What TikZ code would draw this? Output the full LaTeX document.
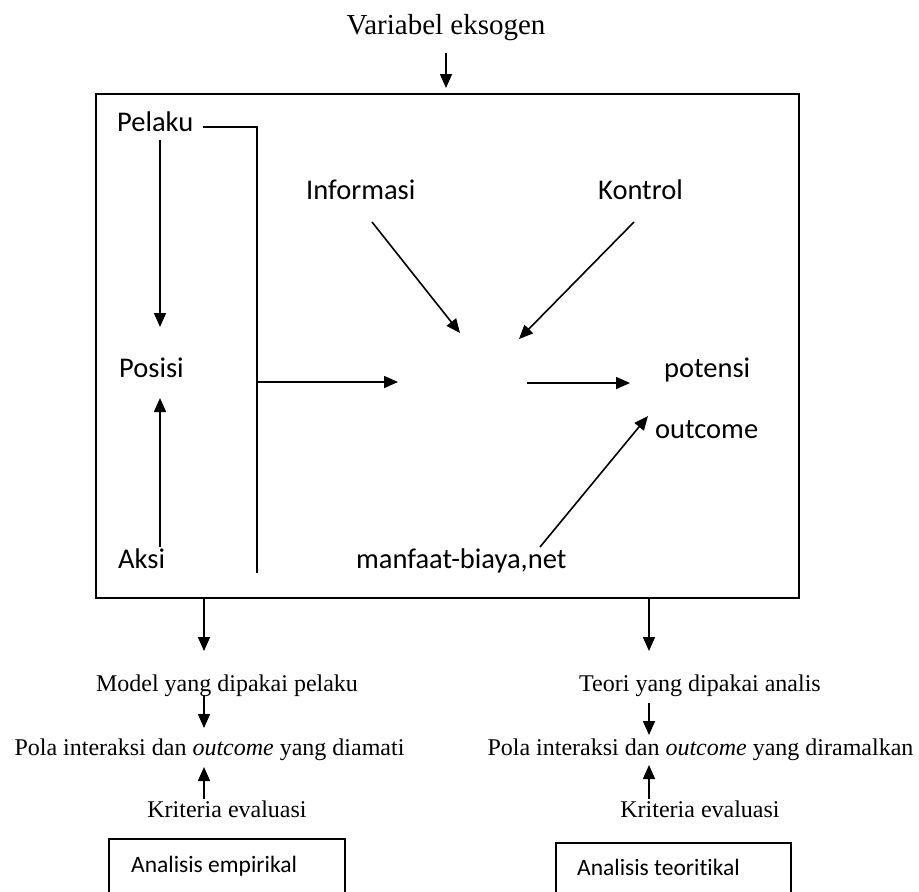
\documentclass[tikz,border=0pt]{standalone}
\usepackage{fontspec}
\setmainfont{Liberation Serif}
\newfontfamily\labelfont{Carlito}[Ligatures=NoCommon]
\usetikzlibrary{arrows.meta,calc}

\begin{document}
\begin{tikzpicture}[x=1pt,y=-1pt,
  ln/.style={line width=1.6pt},
  arr/.style={line width=1.6pt,-{Triangle[length=14pt,width=12pt]}},
  lbl/.style={inner sep=0pt,anchor=base west,font=\labelfont\fontsize{28.5}{32}\selectfont},
  boxlbl/.style={inner sep=0pt,anchor=base west,font=\labelfont\fontsize{23.5}{27}\selectfont},
  title/.style={inner sep=0pt,anchor=base,font=\fontsize{29}{33}\selectfont},
  txt/.style={inner sep=0pt,anchor=base,font=\fontsize{24}{28}\selectfont},
  frame/.style={draw,ln,inner sep=0pt,anchor=north west}
]
\useasboundingbox (0,0) rectangle (919,892);
\clip (0,0) rectangle (919,892);

% exogenous variables entering the action arena
\node[title] (vareks) at (446,34) {Variabel eksogen};
\node[frame,minimum width=703pt,minimum height=504pt] (arena) at (95,93) {};
\draw[arr] ($(vareks.base)+(0,19)$) -- ($(vareks.base |- arena.north)+(0,-5)$);

% inside the arena
\node[lbl] (pelaku)    at (117,131) {Pelaku};
\node[lbl] (informasi) at (306,199) {Informasi};
\node[lbl] (kontrol)   at (598,199) {Kontrol};
\node[lbl] (posisi)    at (119,377) {Posisi};
\node[lbl] (potensi)   at (664,377) {potensi};
\node[lbl] (outcome)   at (655,438) {outcome};
\node[lbl] (aksi)      at (118,568) {Aksi};
\node[lbl] (manfaat)   at (356,568) {manfaat-biaya,net};

\coordinate (lane)  at (160,0);
\coordinate (brTop) at (257,127);
\coordinate (brBot) at (257,573);
\coordinate (hubW)  at (398,382);
\coordinate (hubN1) at (460,333);
\coordinate (hubN2) at (519,339);
\coordinate (hubE)  at (527,383);

\draw[arr] ($(pelaku.base -| lane)+(0,9)$) -- ($(posisi.base -| lane)+(0,-50)$);
\draw[arr] ($(aksi.base -| lane)+(0,-21)$) -- ($(posisi.base -| lane)+(0,21)$);
\draw[ln] ($(pelaku.base east)+(10,-4)$) -- (brTop) -- (brBot);
\draw[arr] (brTop |- hubW) -- (hubW);
\draw[arr] ($(informasi.base west)+(66,23)$) -- (hubN1);
\draw[arr] ($(kontrol.base west)+(36,23)$) -- (hubN2);
\draw[arr] (hubE) -- ($(potensi.base west)+(-34,6)$);
\draw[arr] ($(manfaat.base west)+(184,-21)$) -- ($(outcome.base west)+(-7,-22)$);

% empirical analysis column
\coordinate (colL) at (204,0);
\node[txt] (model) at (227,691) {Model yang dipakai pelaku};
\node[txt] (polaL) at (209.5,755) {Pola interaksi dan \textit{outcome} yang diamati};
\node[txt] (kritL) at (227,817) {Kriteria evaluasi};
\draw[arr] (arena.south -| colL) -- ($(model.base -| colL)+(0,-40)$);
\draw[arr] ($(model.base -| colL)+(0,4)$) -- ($(polaL.base -| colL)+(0,-27)$);
\draw[arr] ($(kritL.base -| colL)+(0,-18)$) -- ($(polaL.base -| colL)+(0,12)$);
\node[frame,minimum width=236pt,minimum height=80pt] (empBox) at (108,838) {};
\node[boxlbl] (empTxt) at (131,872) {Analisis empirikal};

% theoretical analysis column
\coordinate (colR) at (649,0);
\node[txt] (teori) at (700,691) {Teori yang dipakai analis};
\node[txt] (polaR) at (700.5,755) {Pola interaksi dan \textit{outcome} yang diramalkan};
\node[txt] (kritR) at (700,817) {Kriteria evaluasi};
\draw[arr] (arena.south -| colR) -- ($(teori.base -| colR)+(0,-40)$);
\draw[arr] ($(teori.base -| colR)+(0,12)$) -- ($(polaR.base -| colR)+(0,-20)$);
\draw[arr] ($(kritR.base -| colR)+(0,-18)$) -- ($(polaR.base -| colR)+(0,10)$);
\node[frame,minimum width=235pt,minimum height=80pt] (teoBox) at (555,842) {};
\node[boxlbl] (teoTxt) at (577,875) {Analisis teoritikal};
\end{tikzpicture}
\end{document}
